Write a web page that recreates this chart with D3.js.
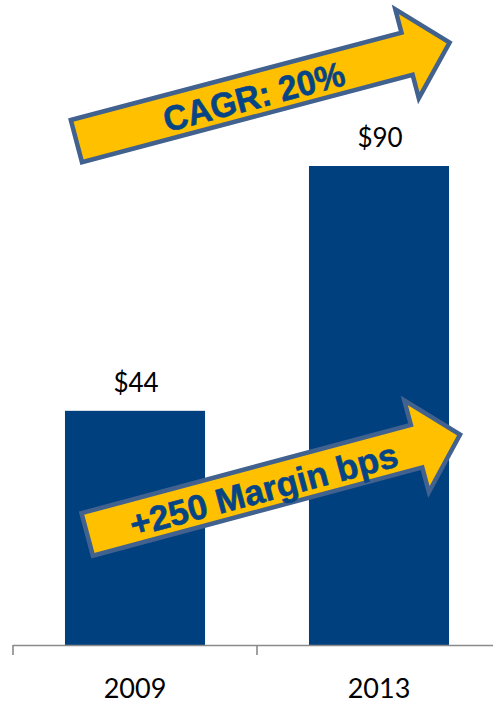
<!DOCTYPE html>
<html>
<head>
<meta charset="utf-8">
<script src="https://cdn.jsdelivr.net/npm/d3@7"></script>
<style>
  html, body { margin: 0; padding: 0; background: #ffffff; }
  svg { display: block; }
</style>
</head>
<body>
<svg id="chart" width="493" height="706"></svg>
<script>
// ---- data ----
const categories = ["2009", "2013"];
const values = [44, 90];
const valueLabels = ["$44", "$90"];
const arrowLabels = ["CAGR: 20%", "+250 Margin bps"];

// ---- setup ----
const svg = d3.select("#chart");

const x = d3.scaleBand()
  .domain(categories)
  .range([13, 501])
  .paddingInner(0.426)
  .paddingOuter(0.213);

const y = d3.scaleLinear()
  .domain([0, 90])
  .range([645, 166]);

const barColor = "#00407F";
const labelFont = "Lato, 'Open Sans', sans-serif";

// bars
svg.append("g").selectAll("rect")
  .data(values)
  .join("rect")
  .attr("x", (d, i) => x(categories[i]))
  .attr("y", d => y(d))
  .attr("width", x.bandwidth())
  .attr("height", d => y(0) - y(d))
  .attr("fill", barColor);

// value labels
svg.append("g").selectAll("text")
  .data(values)
  .join("text")
  .attr("x", (d, i) => x(categories[i]) + x.bandwidth() / 2 + 1)
  .attr("y", d => y(d) - 19)
  .attr("text-anchor", "middle")
  .attr("font-family", labelFont)
  .attr("font-size", 26)
  .attr("fill", "#000")
  .text((d, i) => valueLabels[i]);

// axis
const axisG = svg.append("g").attr("transform", `translate(0,${y(0)})`);
const xAxis = d3.axisBottom(x).tickSizeInner(0).tickSizeOuter(0).tickPadding(0);
axisG.call(xAxis);
axisG.select(".domain").remove();
axisG.selectAll(".tick text")
  .attr("y", 53)
  .attr("dy", null)
  .attr("font-family", labelFont)
  .attr("font-size", 27)
  .attr("fill", "#000");
axisG.attr("font-family", null).attr("font-size", null);

const axisColor = "#8A8A8A";
const [r0, r1] = x.range();
axisG.append("line")
  .attr("x1", r0).attr("x2", r1)
  .attr("y1", 0.5).attr("y2", 0.5)
  .attr("stroke", axisColor).attr("stroke-width", 1.6);
const boundaries = d3.range(categories.length + 1).map(i => r0 + i * x.step());
axisG.selectAll(".bound")
  .data(boundaries)
  .join("line")
  .attr("class", "bound")
  .attr("x1", d => d).attr("x2", d => d)
  .attr("y1", 0).attr("y2", 10)
  .attr("stroke", axisColor).attr("stroke-width", 1.6);

// ---- block arrows (annotations) ----
function arrowPath(L, h1, h2, hl) {
  return `M0,${-h1} L${L - hl},${-h1} L${L - hl},${-h2} L${L},0 L${L - hl},${h2} L${L - hl},${h1} L0,${h1} Z`;
}
const arrows = [
  { tx: 76.4, ty: 141.1, angle: -14.8, L: 386, h1: 21.8, h2: 46, hl: 44, textAt: 183, textLen: 186 },
  { tx: 87.2, ty: 534.4, angle: -15.0, L: 386, h1: 22, h2: 47.5, hl: 45, textAt: 182, textLen: 276 }
];
arrows.forEach((a, i) => {
  const g = svg.append("g")
    .attr("transform", `translate(${a.tx},${a.ty}) rotate(${a.angle})`);
  g.append("path")
    .attr("d", arrowPath(a.L, a.h1, a.h2, a.hl))
    .attr("fill", "#FFC000")
    .attr("stroke", "#41618F")
    .attr("stroke-width", 4.5)
    .attr("stroke-linejoin", "miter");
  g.append("text")
    .attr("x", a.textAt)
    .attr("y", 2)
    .attr("text-anchor", "middle")
    .attr("dominant-baseline", "central")
    .attr("font-family", "'Liberation Sans', Arial, sans-serif")
    .attr("font-weight", "bold")
    .attr("font-size", 35)
    .attr("fill", "#064585")
    .attr("stroke", "#064585")
    .attr("stroke-width", 0.6)
    .attr("textLength", a.textLen)
    .attr("lengthAdjust", "spacingAndGlyphs")
    .text(arrowLabels[i]);
});
</script>
</body>
</html>
